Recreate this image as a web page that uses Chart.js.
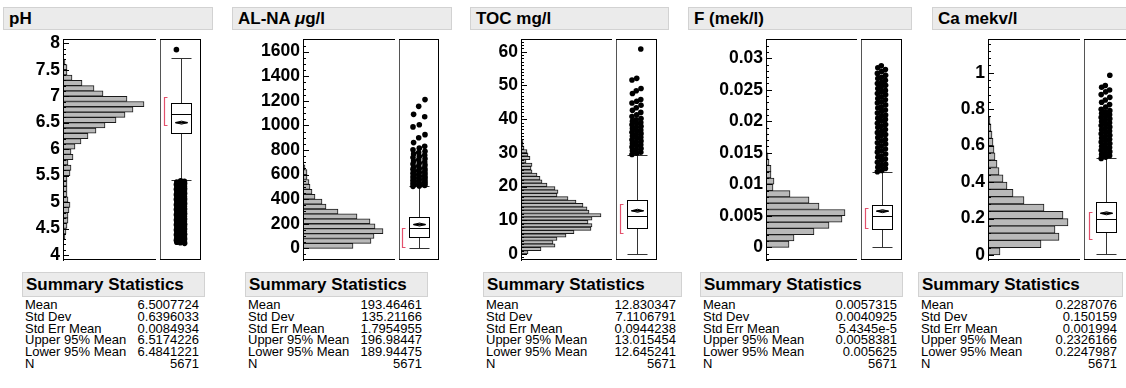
<!DOCTYPE html>
<html><head><meta charset="utf-8">
<script src="https://cdn.jsdelivr.net/npm/chart.js@4.4.1/dist/chart.umd.min.js"></script>
<style>
html,body{margin:0;padding:0;background:#fff}
body{width:1126px;height:388px;overflow:hidden;position:relative;font-family:"Liberation Sans",Arial,Helvetica,sans-serif;color:#000}
.hdr{position:absolute;top:7px;height:23px;background:#ebebeb;border:1px solid #d2d2d2;box-sizing:border-box;font-weight:bold;font-size:17px;line-height:21px;padding-left:5px;white-space:nowrap;overflow:hidden}
canvas{position:absolute}
.sum{position:absolute;top:272px}
.sum .t{height:25px;background:#ebebeb;border:1px solid #d2d2d2;box-sizing:border-box;font-weight:bold;font-size:17px;line-height:23px;padding-left:3px;white-space:nowrap}
.sum table{border-collapse:collapse;margin-top:2px;margin-left:3px;font-size:13px}
.sum td{padding:0;height:11.8px;line-height:11.8px;white-space:nowrap}
.sum td.v{text-align:right}
</style>
</head><body>
<script>
// ---------------- DATA ----------------
const titles = ['pH', 'AL-NA <i>\u03bc</i>g/l', 'TOC mg/l', 'F (mek/l)', 'Ca mekv/l'];

// histogram bins: first bin start, bin width, relative bar lengths (bottom to top)
const phBinStart = 4.3, phBinWidth = 0.1;
const phCounts = [2,3,4,5,5,6,7,5,4,4,4,4,7,8,5,10,8,12,18,25,33,42,53,62,70,81,64,40,31,19,9,4,4,2];
const alBinStart = 0, alBinWidth = 40;
const alCounts = [50,68,71,80,72,67,54,35,23,19,12,9,7,6,4,4,2];
const tocBinStart = 0, tocBinWidth = 1;
const tocCounts = [7,20,34,32,36,45,53,70,71,67,71,80,68,66,62,55,47,36,37,34,26,21,19,16,11,10,11,5,9,7,6,3,2,2];
const fBinStart = 0, fBinWidth = 0.001;
const fCounts = [23,28,48,63,76,79,53,43,24,7,8,5,5,3,2,1,1,1,1,1,1,1,1];
const caBinStart = 0, caBinWidth = 0.04;
const caCounts = [12,53,71,67,80,75,56,36,25,19,15,11,9,7,6,5,4,3,2];

// box plots: [lower whisker, Q1, median, Q3, upper whisker]
const phBox = [5.42, 6.30, 6.66, 6.88, 7.72];
const alBox = [0, 90, 163, 258, 503];
const tocBox = [0, 7.6, 11.4, 16.0, 29.4];
const fBox = [0, 0.00295, 0.00497, 0.00676, 0.01195];
const caBox = [0.005, 0.124, 0.199, 0.289, 0.53];

// shortest half
const phShortest = [6.45, 6.99];
const alShortest = [8, 164];
const tocShortest = [6.3, 14.8];
const fShortest = [0.0030, 0.0062];
const caShortest = [0.086, 0.234];

// outliers
const phOutliers = [7.88,5.40,5.39,5.38,5.36,5.35,5.33,5.32,5.30,5.29,5.27,5.25,5.24,5.22,5.21,5.19,5.18,5.16,5.14,5.13,5.11,5.10,5.08,5.06,5.05,5.03,5.02,5.00,4.98,4.97,4.95,4.94,4.92,4.90,4.89,4.87,4.86,4.84,4.82,4.81,4.79,4.78,4.76,4.74,4.73,4.71,4.70,4.68,4.66,4.65,4.63,4.62,4.60,4.58,4.57,4.55,4.54,4.52,4.50,4.49,4.47,4.46,4.44,4.42,4.41,4.39,4.38,4.36,4.34,4.33,4.31,4.30,4.28,4.27,4.25,4.24,4.23,4.22];
const alOutliers = [504,508,512,516,520,524,528,532,537,541,545,550,554,559,563,568,572,577,581,586,591,596,601,606,611,616,621,627,632,638,644,650,656,662,670,678,686,694,702,711,720,729,738,748,758,768,779,790,802,815,830,860,900,925,988,1005,1070,1090,1155,1210];
const tocOutliers = [29.5,29.9,30.2,30.6,31.0,31.3,31.7,32.1,32.4,32.8,33.2,33.5,33.9,34.3,34.6,35.0,35.4,35.7,36.1,36.5,36.8,37.2,37.6,37.9,38.3,38.7,39.0,39.4,39.8,40.2,40.8,41.3,42.0,42.6,43.4,44.1,44.8,45.3,45.8,47.6,48.4,49.1,51.6,52.1,60.8];
const fOutliers = [0.0120,0.0122,0.0125,0.0127,0.0130,0.0132,0.0135,0.0138,0.0140,0.0143,0.0145,0.0148,0.0151,0.0153,0.0156,0.0158,0.0161,0.0164,0.0166,0.0169,0.0171,0.0174,0.0177,0.0179,0.0182,0.0184,0.0187,0.0190,0.0192,0.0195,0.0197,0.0200,0.0203,0.0205,0.0208,0.0210,0.0213,0.0216,0.0218,0.0221,0.0223,0.0226,0.0229,0.0231,0.0234,0.0236,0.0239,0.0242,0.0244,0.0247,0.0249,0.0252,0.0255,0.0257,0.0260,0.0262,0.0265,0.0268,0.0270,0.0273,0.0276,0.0279,0.0282,0.0285,0.0288];
const caOutliers = [0.530,0.537,0.545,0.552,0.560,0.567,0.575,0.582,0.590,0.597,0.605,0.612,0.620,0.627,0.635,0.642,0.650,0.657,0.665,0.672,0.680,0.687,0.695,0.702,0.710,0.717,0.725,0.732,0.740,0.747,0.755,0.762,0.770,0.777,0.785,0.792,0.800,0.812,0.825,0.838,0.850,0.865,0.880,0.895,0.905,0.920,0.930,0.986];

// axis ranges and tick steps
const phAxis = {min: 3.905, max: 8.081, major: 0.5, minor: 0.1};
const alAxis = {min: -95, max: 1703, major: 200, minor: 50};
const tocAxis = {min: -1.78, max: 63.77, major: 10, minor: 1};
const fAxis = {min: -0.002016, max: 0.03306, major: 0.005, minor: 0.001};
const caAxis = {min: -0.0274, max: 1.185, major: 0.2, minor: 0.04};

// summary statistics
const statLabels = ['Mean', 'Std Dev', 'Std Err Mean', 'Upper 95% Mean', 'Lower 95% Mean', 'N'];
const phSummary = ['6.5007724', '0.6396033', '0.0084934', '6.5174226', '6.4841221', '5671'];
const alSummary = ['193.46461', '135.21166', '1.7954955', '196.98447', '189.94475', '5671'];
const tocSummary = ['12.830347', '7.1106791', '0.0944238', '13.015454', '12.645241', '5671'];
const fSummary = ['0.0057315', '0.0040925', '5.4345e-5', '0.0058381', '0.005625', '5671'];
const caSummary = ['0.2287076', '0.150159', '0.001994', '0.2326166', '0.2247987', '5671'];

// ---------------- LAYOUT ----------------
const layoutCfg = [
  {hdrX: 3, hdrW: 210, canvasX: 0, axisX: 63, divX: 156, rightX: 205, sumX: 22, sumW: 183},
  {hdrX: 232, hdrW: 220, canvasX: 228, axisX: 303, divX: 395, rightX: 443, sumX: 245, sumW: 183},
  {hdrX: 470, hdrW: 199, canvasX: 462, axisX: 521, divX: 612, rightX: 661, sumX: 483, sumW: 199},
  {hdrX: 688, hdrW: 224, canvasX: 684, axisX: 766, divX: 857, rightX: 906, sumX: 700, sumW: 203},
  {hdrX: 932, hdrW: 200, canvasX: 924, axisX: 988, divX: 1080, rightX: 1131, sumX: 918, sumW: 205}
];
const FRAME_TOP = 39, FRAME_BOTTOM = 260, PADV = 12;
const jitter = [-1, 0.05, 0.95, -0.9, -0.05, 1];
const spreads = [0.2, 0.3, 0.22, 0.2, 0.2];

const variables = [
  {counts: phCounts, start: phBinStart, width: phBinWidth, box: phBox, shortest: phShortest, outliers: phOutliers, axis: phAxis, summary: phSummary},
  {counts: alCounts, start: alBinStart, width: alBinWidth, box: alBox, shortest: alShortest, outliers: alOutliers, axis: alAxis, summary: alSummary},
  {counts: tocCounts, start: tocBinStart, width: tocBinWidth, box: tocBox, shortest: tocShortest, outliers: tocOutliers, axis: tocAxis, summary: tocSummary},
  {counts: fCounts, start: fBinStart, width: fBinWidth, box: fBox, shortest: fShortest, outliers: fOutliers, axis: fAxis, summary: fSummary},
  {counts: caCounts, start: caBinStart, width: caBinWidth, box: caBox, shortest: caShortest, outliers: caOutliers, axis: caAxis, summary: caSummary}
];

function isMajor(v, major) { const r = v / major; return Math.abs(r - Math.round(r)) < 1e-6; }
function fmt(v) { return String(parseFloat(v.toFixed(6))); }
function axisTicks(ax) {
  const out = [];
  const k0 = Math.ceil(ax.min / ax.minor - 1e-9), k1 = Math.floor(ax.max / ax.minor + 1e-9);
  for (let k = k0; k <= k1; k++) out.push({value: parseFloat((k * ax.minor).toFixed(8))});
  return out;
}

const inwardTicks = {
  id: 'inwardTicks',
  afterDraw(chart, args, opts) {
    const s = chart.scales.y, ctx = chart.ctx, x0 = chart.chartArea.left;
    ctx.save(); ctx.strokeStyle = '#000'; ctx.lineWidth = 1;
    s.ticks.forEach((t) => {
      const py = Math.round(s.getPixelForValue(t.value)) + 0.5;
      const len = isMajor(t.value, opts.major) ? 6 : 3;
      ctx.beginPath(); ctx.moveTo(x0, py); ctx.lineTo(x0 + len, py); ctx.stroke();
    });
    ctx.restore();
  }
};
const histFrame = {
  id: 'histFrame',
  afterDraw(chart) {
    const {left, right, top, bottom} = chart.chartArea, ctx = chart.ctx;
    ctx.save(); ctx.strokeStyle = '#000'; ctx.lineWidth = 1;
    ctx.beginPath();
    ctx.moveTo(left, top + 0.5); ctx.lineTo(right, top + 0.5);
    ctx.moveTo(left, bottom - 0.5); ctx.lineTo(right, bottom - 0.5);
    ctx.moveTo(left + 0.5, top); ctx.lineTo(left + 0.5, bottom);
    ctx.stroke(); ctx.restore();
  }
};
const boxPlot = {
  id: 'boxPlot',
  beforeDatasetsDraw(chart, args, o) {
    const {left, right, top, bottom} = chart.chartArea, ctx = chart.ctx;
    const y = chart.scales.y, x = chart.scales.x;
    const py = v => Math.round(y.getPixelForValue(v)) + 0.5;
    const cx = Math.round(x.getPixelForValue(0)) + 0.5;
    const hw = 10;
    const [lw, q1, med, q3, uw] = o.box;
    ctx.save();
    ctx.lineWidth = 1;
    ctx.strokeStyle = '#555';
    ctx.beginPath(); ctx.moveTo(left + 0.5, top); ctx.lineTo(left + 0.5, bottom); ctx.stroke();
    ctx.strokeStyle = '#000';
    ctx.beginPath();
    ctx.moveTo(left, top + 0.5); ctx.lineTo(right, top + 0.5);
    ctx.moveTo(left, bottom - 0.5); ctx.lineTo(right, bottom - 0.5);
    ctx.moveTo(right - 0.5, top); ctx.lineTo(right - 0.5, bottom);
    ctx.stroke();
    ctx.strokeStyle = '#333';
    ctx.beginPath();
    ctx.moveTo(cx, py(q3)); ctx.lineTo(cx, py(uw));
    ctx.moveTo(cx, py(q1)); ctx.lineTo(cx, py(lw));
    ctx.moveTo(cx - hw, py(uw)); ctx.lineTo(cx + hw, py(uw));
    ctx.moveTo(cx - hw, py(lw)); ctx.lineTo(cx + hw, py(lw));
    ctx.stroke();
    ctx.fillStyle = '#fff'; ctx.strokeStyle = '#000';
    ctx.fillRect(cx - hw, py(q3), 2 * hw, py(q1) - py(q3));
    ctx.strokeRect(cx - hw, py(q3), 2 * hw, py(q1) - py(q3));
    ctx.beginPath(); ctx.moveTo(cx - hw, py(med)); ctx.lineTo(cx + hw, py(med)); ctx.stroke();
    const my = y.getPixelForValue(o.mean);
    const hi = Math.min(y.getPixelForValue(o.ciHi), my - 1.5);
    const lo = Math.max(y.getPixelForValue(o.ciLo), my + 1.5);
    ctx.beginPath();
    ctx.moveTo(cx - 6, my); ctx.lineTo(cx, hi); ctx.lineTo(cx + 6, my); ctx.lineTo(cx, lo); ctx.closePath();
    ctx.fillStyle = '#aaa'; ctx.fill(); ctx.stroke();
    ctx.lineWidth = 1.5;
    ctx.beginPath(); ctx.moveTo(cx - 6, my); ctx.lineTo(cx + 6, my); ctx.stroke();
    const bx = cx - 17;
    ctx.strokeStyle = '#e3506c'; ctx.lineWidth = 1.2;
    ctx.beginPath();
    ctx.moveTo(bx + 3, py(o.shortest[1])); ctx.lineTo(bx, py(o.shortest[1]));
    ctx.lineTo(bx, py(o.shortest[0])); ctx.lineTo(bx + 3, py(o.shortest[0]));
    ctx.stroke();
    ctx.restore();
  }
};

const body = document.body;
variables.forEach((v, k) => {
  const L = layoutCfg[k];
  const h = document.createElement('div');
  h.className = 'hdr'; h.style.left = L.hdrX + 'px'; h.style.width = L.hdrW + 'px';
  h.innerHTML = titles[k];
  body.appendChild(h);

  const cTop = FRAME_TOP - PADV, cH = FRAME_BOTTOM - FRAME_TOP + 2 * PADV;
  const c1 = document.createElement('canvas');
  const labelW = L.axisX - L.canvasX;
  c1.width = L.divX - L.canvasX; c1.height = cH;
  c1.style.left = L.canvasX + 'px'; c1.style.top = cTop + 'px';
  body.appendChild(c1);
  new Chart(c1, {
    type: 'bar',
    data: {datasets: [{
      data: v.counts.map((c, i) => ({x: c, y: v.start + (i + 0.5) * v.width})),
      backgroundColor: '#b9b9b9', borderColor: '#1a1a1a', borderWidth: 1, borderSkipped: 'start',
      barPercentage: 1, categoryPercentage: 1
    }]},
    options: {
      indexAxis: 'y', responsive: false, animation: false, events: [],
      layout: {padding: {top: PADV, bottom: PADV, left: 0, right: 0}},
      plugins: {legend: {display: false}, tooltip: {enabled: false}, inwardTicks: {major: v.axis.major}},
      scales: {
        x: {type: 'linear', display: false, min: 0, max: L.divX - L.axisX},
        y: {type: 'linear', position: 'left', min: v.axis.min, max: v.axis.max, offset: false,
            afterBuildTicks: s => { s.ticks = axisTicks(v.axis); },
            afterFit: s => { s.width = labelW; s.paddingTop = 0; s.paddingBottom = 0; },
            grid: {display: false, drawTicks: false},
            border: {display: true, color: '#000', width: 1},
            ticks: {autoSkip: false, padding: 3, color: '#000',
                    font: {family: 'Liberation Sans', weight: 'bold', size: 17.5},
                    callback: val => isMajor(val, v.axis.major) ? fmt(val) : ''}}
      }
    },
    plugins: [inwardTicks, histFrame]
  });

  const c2 = document.createElement('canvas');
  c2.width = L.rightX - L.divX; c2.height = cH;
  c2.style.left = L.divX + 'px'; c2.style.top = cTop + 'px';
  body.appendChild(c2);
  const sp = spreads[k];
  new Chart(c2, {
    type: 'scatter',
    data: {datasets: [{
      data: v.outliers.map((val, i) => ({x: jitter[i % jitter.length] * sp, y: val})),
      pointRadius: 2.8, pointBackgroundColor: '#000', pointBorderWidth: 0
    }]},
    options: {
      responsive: false, animation: false, events: [],
      layout: {padding: {top: PADV, bottom: PADV, left: 0, right: 0}},
      plugins: {legend: {display: false}, tooltip: {enabled: false},
        boxPlot: {box: v.box, shortest: v.shortest, mean: parseFloat(v.summary[0]),
                  ciHi: parseFloat(v.summary[3]), ciLo: parseFloat(v.summary[4])}},
      scales: {
        x: {type: 'linear', display: false, min: -1, max: 1},
        y: {type: 'linear', display: false, min: v.axis.min, max: v.axis.max}
      }
    },
    plugins: [boxPlot]
  });

  const s = document.createElement('div');
  s.className = 'sum'; s.style.left = L.sumX + 'px'; s.style.width = L.sumW + 'px';
  let html = '<div class="t">Summary Statistics</div><table style="width:' + (L.sumW - 9) + 'px">';
  statLabels.forEach((lab, i) => { html += '<tr><td>' + lab + '</td><td class="v">' + v.summary[i] + '</td></tr>'; });
  html += '</table>';
  s.innerHTML = html;
  body.appendChild(s);
});
</script>
</body></html>
